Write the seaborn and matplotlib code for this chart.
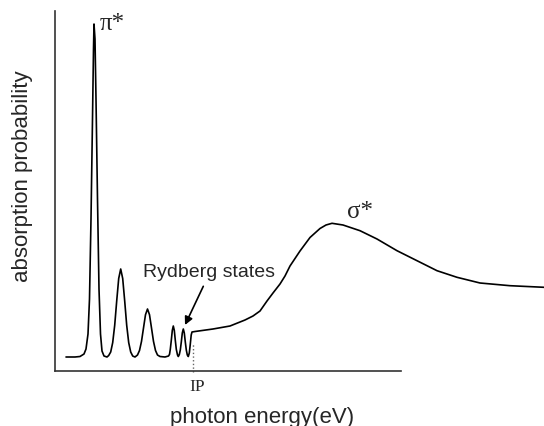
import matplotlib
matplotlib.use("Agg")
import matplotlib.pyplot as plt
import seaborn as sns
import pandas as pd

# photon energy (arbitrary units) and absorption probability (arbitrary units)
energy = [11, 20, 25, 29, 31, 33, 34.5, 36, 37.5, 38.5, 39, 40, 41, 42.5, 44, 45.5, 47, 49, 52,
          53.7, 55.7, 57.7, 59.7, 61.7, 63.7, 65.7, 67.7, 69.7, 71.7, 73.7, 75.7, 77.7, 80,
          82.5, 84.5, 86.5, 88.5, 90.5, 92.5, 94.5, 96.5, 98.5, 100.5, 102.5, 105, 110,
          113.5, 114.5, 115.3, 116.3, 117.3, 118.3, 119.3, 120.3, 121.3, 122.5, 123.3,
          124.3, 125.3, 126.3, 127.3, 128.3, 129.3, 130.3, 131.3, 132.3, 133.3,
          134.3, 135.3, 136.2, 137, 140, 158, 175, 190, 198, 205, 212, 218, 225, 230, 235,
          245, 255, 265, 271, 277, 288, 305, 322, 342, 362, 382, 402, 425, 455, 489]
absorption = [14, 14, 14.5, 17, 22, 37, 72, 152, 252, 322, 347, 332, 272, 172, 82, 37, 20, 15, 14,
              15.5, 19, 28.4, 45.7, 70, 92.5, 102, 92.5, 70, 45.7, 28.4, 19, 15, 14,
              16, 20.5, 29.6, 43, 56.3, 62, 56.3, 43, 29.6, 20.5, 16, 14.5, 14,
              15, 16.6, 21.7, 30.7, 40.6, 45, 40.6, 30.7, 21.7, 16, 14.5,
              16.4, 21, 29, 38, 42, 38, 29, 21, 16, 14.5,
              18, 27, 36, 39, 39.5, 42, 45, 51, 55, 60, 70, 78, 87, 95, 105,
              120, 133.5, 142.5, 146, 147.7, 146, 140.3, 132, 120.3, 110.3, 100.3, 93.7, 88, 85.3, 83.7]

ionization_energy = 138
axis_end = 346
pi_label = "π*"
sigma_label = "σ*"
rydberg_label = "Rydberg states"
ip_label = "IP"
xlabel = "photon energy(eV)"
ylabel = "absorption probability"

sns.set_style("white")
plt.rcParams["font.family"] = ["Liberation Sans", "DejaVu Sans"]

df = pd.DataFrame({"energy": energy, "absorption": absorption})

fig = plt.figure(figsize=(5.44, 4.27), dpi=100)
ax = fig.add_axes([55 / 544, 1 - 372 / 427, (544 - 55) / 544, 360 / 427])
sns.lineplot(data=df, x="energy", y="absorption", sort=False, estimator=None,
             color="black", linewidth=1.2, ax=ax, clip_on=False)

ax.set_xlim(0, 489)
ax.set_ylim(0, 360)
ax.set_xticks([])
ax.set_yticks([])
ax.set_xlabel("")
ax.set_ylabel("")
for s in ["top", "right"]:
    ax.spines[s].set_visible(False)
for s in ["left", "bottom"]:
    ax.spines[s].set_color("#333333")
    ax.spines[s].set_linewidth(1.2)
ax.spines["bottom"].set_bounds(0, axis_end)

# ionization potential marker
ax.plot([ionization_energy, ionization_energy], [-1, 27], linestyle=":", color="#666666",
        linewidth=1.0, clip_on=False)
ax.text(ionization_energy + 4.5, -15.5, ip_label, ha="center", va="center", fontsize=12.5,
        family=["Liberation Serif", "DejaVu Serif"], clip_on=False)

ax.text(45, 342, pi_label, ha="left", va="baseline", fontsize=18,
        family=["Liberation Serif", "DejaVu Serif"])
ax.text(291.7, 153.7, sigma_label, ha="left", va="baseline", fontsize=18,
        family=["Liberation Serif", "DejaVu Serif"])
ax.text(87.7, 94.7, rydberg_label, ha="left", va="baseline", fontsize=14)
ax.annotate("", xy=(130, 46), xytext=(148.3, 84.7),
            arrowprops=dict(arrowstyle="-|>", color="black", lw=1.2,
                            shrinkA=0, shrinkB=0, mutation_scale=12))

fig.text(170 / 544, 1 - 423.3 / 427, xlabel, ha="left", va="baseline", fontsize=16)
fig.text(23 / 544, 1 - 176.5 / 427, ylabel, ha="center", va="center", rotation=90, fontsize=16)

fig.savefig("out.png", dpi=100)
